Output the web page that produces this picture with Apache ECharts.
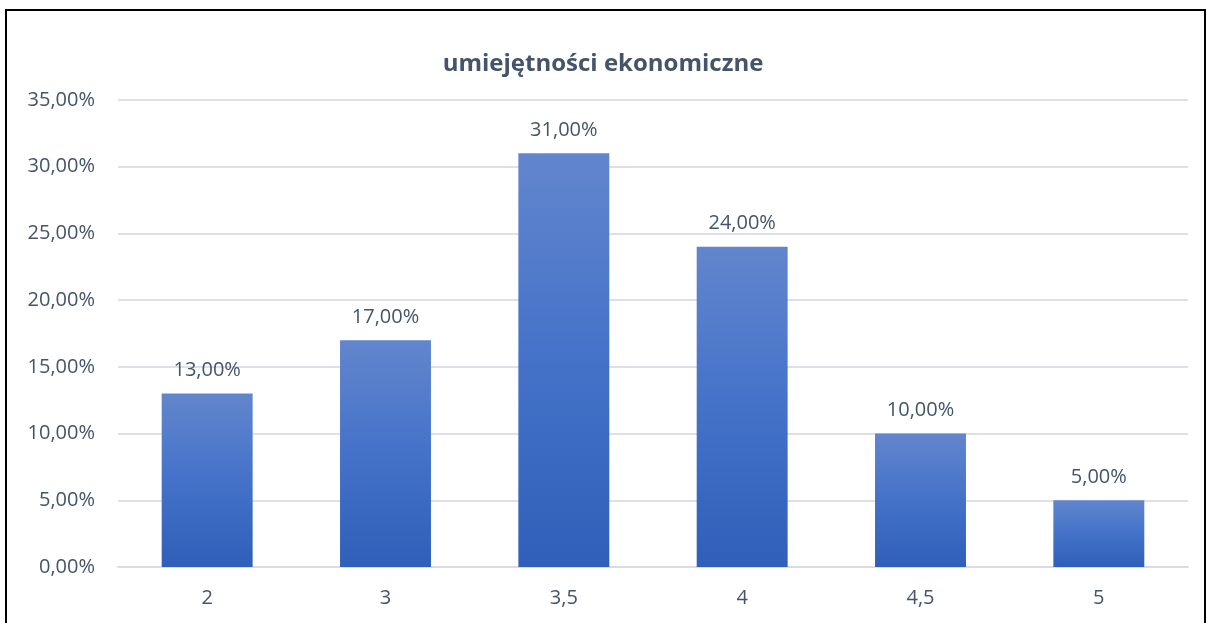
<!DOCTYPE html>
<html>
<head>
<meta charset="utf-8">
<script src="https://cdn.jsdelivr.net/npm/echarts@6/dist/echarts.min.js"></script>
<style>
  html, body { margin: 0; padding: 0; background: #fff; }
  #chart { width: 1206px; height: 623px; }
  /* obramowanie wykresu (dół ucięty jak w oryginale) */
  .frame {
    position: absolute; left: 5px; top: 9px; width: 1197px; height: 700px;
    border: 2px solid #000; pointer-events: none;
  }
</style>
</head>
<body>
<div id="chart"></div>
<div class="frame"></div>
<script>
// dane
const categories = ['2', '3', '3,5', '4', '4,5', '5'];
const values = [13, 17, 31, 24, 10, 5];
const yTicks = { min: 0, max: 35, interval: 5 };

const textColor = '#44546a';
const fmt = v => v.toFixed(2).replace('.', ',') + '%';

const chart = echarts.init(document.getElementById('chart'));
const option = {
  backgroundColor: '#fff',
  animation: false,
  title: {
    text: 'umiejętności ekonomiczne',
    left: 'center',
    top: 47,
    textStyle: {
      color: textColor,
      fontFamily: 'Open Sans',
      fontWeight: 'bold',
      fontSize: 24
    }
  },
  grid: { left: 118, right: 18, top: 100, bottom: 56 },
  xAxis: {
    type: 'category',
    data: categories,
    axisLine: { show: true, lineStyle: { color: '#d9dde3', width: 2 } },
    axisTick: { show: false },
    axisLabel: { color: textColor, fontSize: 20, fontFamily: 'Open Sans', margin: 21 }
  },
  yAxis: {
    type: 'value',
    min: yTicks.min,
    max: yTicks.max,
    interval: yTicks.interval,
    axisLine: { show: false },
    axisTick: { show: false },
    splitLine: { lineStyle: { color: '#dde1e6', width: 2 } },
    axisLabel: {
      color: textColor, fontSize: 20, fontFamily: 'Open Sans', margin: 23,
      formatter: fmt
    }
  },
  series: [{
    type: 'bar',
    data: values,
    barCategoryGap: '49%',
    itemStyle: {
      color: new echarts.graphic.LinearGradient(0, 0, 0, 1, [
        { offset: 0, color: '#6286cd' },
        { offset: 0.5, color: '#4472c9' },
        { offset: 1, color: '#2f5fb8' }
      ])
    },
    label: {
      show: true,
      position: 'top',
      distance: 13,
      color: textColor,
      fontSize: 20,
      fontFamily: 'Open Sans',
      formatter: p => fmt(p.value)
    }
  }]
};
chart.setOption(option);
</script>
</body>
</html>
